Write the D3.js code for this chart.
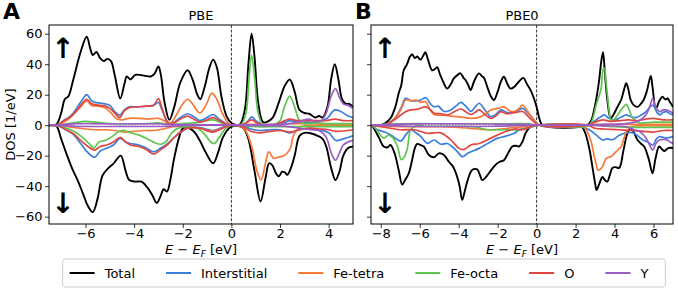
<!DOCTYPE html>
<html>
<head>
<meta charset="utf-8">
<script src="https://cdn.jsdelivr.net/npm/d3@7"></script>
<style>
  body { margin: 0; background: #fff; }
  svg { display: block; font-family: "DejaVu Sans", sans-serif; }
</style>
</head>
<body>
<div id="container"></div>
<script>
/* CONSTANTS AND GLOBALS */
const width = 678,
  height = 292,
  fontSize = 13,
  yTop = 25,
  yBottom = 224

/* DATA : [energy (eV), DOS (1/eV)] */
// panel A, PBE
const totalUpA = [[-7.5,0],[-7.2,0.5],[-7.0,8],[-6.85,17],[-6.7,19],[-6.5,30],[-6.2,48],[-5.95,58],[-5.8,50],[-5.7,46],[-5.55,48],[-5.4,44],[-5.25,42],[-5.1,43.5],[-4.95,42],[-4.8,33],[-4.57,17.5],[-4.4,27],[-4.3,32],[-4.15,30],[-3.95,33],[-3.6,32.5],[-3.3,32],[-3.15,34],[-3.0,38.5],[-2.9,33],[-2.75,15],[-2.55,3.5],[-2.35,12],[-2.1,28],[-1.8,36],[-1.6,30],[-1.4,20],[-1.28,17],[-1.1,25],[-0.9,38],[-0.75,43],[-0.6,38],[-0.4,18],[-0.2,6],[0,1.5],[0.15,0.3],[0.35,0.5],[0.55,10],[0.7,40],[0.83,60],[0.95,45],[1.1,15],[1.3,2],[1.5,2.5],[1.7,5],[1.95,15],[2.2,26],[2.4,30],[2.6,22],[2.8,10],[3.0,8],[3.2,7.5],[3.45,5],[3.6,6],[3.75,5],[3.95,12],[4.1,30],[4.25,40],[4.4,30],[4.55,17],[4.7,14],[4.85,14],[5.0,12]]
const totalDnA = [[-7.5,0],[-7.2,-0.5],[-7.0,-9],[-6.8,-18],[-6.56,-28],[-6.3,-37],[-6.1,-45],[-5.9,-53],[-5.7,-57],[-5.5,-48],[-5.3,-33],[-5.05,-28],[-4.84,-25],[-4.55,-20],[-4.35,-30],[-4.2,-36],[-3.95,-37],[-3.7,-37],[-3.45,-41],[-3.25,-46],[-3.07,-51],[-2.9,-46],[-2.79,-42],[-2.65,-43.5],[-2.5,-35],[-2.37,-23],[-2.15,-8],[-2.0,-2],[-1.8,-1.5],[-1.55,-4],[-1.3,-10],[-1.05,-18],[-0.75,-25],[-0.55,-18],[-0.35,-8],[-0.1,-2],[0,-1],[0.3,-0.5],[0.5,-2],[0.7,-9],[0.95,-30],[1.2,-50],[1.4,-35],[1.55,-25],[1.67,-26],[1.85,-32],[1.95,-33.5],[2.09,-30.5],[2.2,-31],[2.3,-32.5],[2.45,-28],[2.6,-20],[2.8,-7],[3.0,-5],[3.25,-5.3],[3.55,-7],[3.75,-9],[3.9,-14],[4.1,-28],[4.28,-36],[4.45,-30],[4.6,-20],[4.8,-15],[5.0,-14]]
const interUpA = [[-7.5,0],[-7.1,0.5],[-6.9,3],[-6.7,5],[-6.5,8],[-6.2,15],[-5.95,20],[-5.75,16],[-5.6,15],[-5.4,14.5],[-5.2,14],[-5.0,13],[-4.8,9],[-4.6,6.5],[-4.4,10],[-4.2,12],[-3.9,12],[-3.5,12.5],[-3.2,13],[-3.0,15],[-2.85,10],[-2.6,2],[-2.4,1.5],[-2.1,5],[-1.8,7.5],[-1.5,5],[-1.3,3],[-1.0,5],[-0.75,7],[-0.5,4],[-0.2,1],[0,0],[0.5,0.5],[0.7,3],[0.83,5.5],[1.0,3],[1.3,0.5],[1.8,0.5],[2.2,2],[2.4,3],[2.7,2],[3.1,2],[3.5,2],[3.9,4],[4.25,10],[4.5,9],[4.8,6],[5.0,5]]
const interDnA = [[-7.5,0],[-7.1,-0.5],[-6.8,-3],[-6.5,-6],[-6.2,-12],[-5.9,-18],[-5.62,-21],[-5.4,-17],[-5.12,-15],[-4.85,-13],[-4.57,-8.6],[-4.35,-11],[-4.16,-12],[-3.8,-13],[-3.5,-15],[-3.2,-17.5],[-2.9,-15],[-2.65,-12.5],[-2.35,-8],[-2.1,-5],[-1.8,-2],[-1.3,-1.5],[-0.75,-3.5],[-0.3,-1],[0,0],[0.5,-0.5],[0.8,-2.5],[1.2,-3.5],[1.6,-3],[2.0,-3],[2.4,-5],[2.8,-3],[3.2,-2],[3.6,-3],[4.0,-5],[4.3,-10],[4.6,-9],[5.0,-7]]
const tetraUpA = [[-7.5,0],[-7.1,0.5],[-6.9,2],[-6.7,4],[-6.5,7],[-6.2,12],[-5.95,16],[-5.75,13],[-5.5,12.5],[-5.2,11.5],[-4.95,8],[-4.7,4],[-4.5,3.5],[-4.2,4.5],[-3.8,4.5],[-3.4,4],[-3.0,4.5],[-2.7,2.5],[-2.5,1.5],[-2.25,7],[-2.0,14],[-1.8,17],[-1.6,14],[-1.3,8],[-1.05,13],[-0.8,21],[-0.6,17],[-0.35,7],[-0.1,1],[0,0],[0.5,0.5],[1.0,0.5],[2.0,0.5],[2.4,1],[3.0,1],[4.0,0.5],[5.0,0.5]]
const tetraDnA = [[-7.5,0],[-7,-0.5],[-6.5,-1.5],[-6,-2.5],[-5.6,-3],[-5.2,-3],[-4.8,-3.5],[-4.4,-4.5],[-4.0,-4],[-3.6,-3.5],[-3.2,-3.5],[-2.8,-2.5],[-2.4,-1],[-1.8,-1],[-1.3,-2],[-0.75,-4],[-0.4,-2],[0,0],[0.4,-1],[0.6,-4],[0.85,-15],[1.05,-30],[1.22,-36],[1.4,-25],[1.54,-17.5],[1.74,-21.8],[1.91,-21],[2.15,-20],[2.4,-16],[2.56,-6.5],[2.84,-1],[3.2,-0.5],[4.0,-0.5],[5.0,-0.5]]
const octaUpA = [[-7.5,0],[-7,0.3],[-6.5,1.5],[-6.0,2.5],[-5.6,2],[-5.0,1],[-4.5,0.5],[-3.5,1],[-3.0,1.5],[-2.5,0.5],[-2.0,1],[-1.5,1.5],[-0.75,3.5],[-0.4,1.5],[0,0],[0.4,0.5],[0.6,8],[0.72,30],[0.83,46],[0.95,32],[1.1,8],[1.3,0.5],[1.8,0.5],[2.0,3],[2.2,13],[2.4,19],[2.6,12],[2.8,3],[3.0,1],[3.5,1.5],[4.0,1],[4.5,1],[5.0,1]]
const octaDnA = [[-7.5,0],[-7.0,-1],[-6.6,-3],[-6.2,-7],[-5.85,-12],[-5.65,-15],[-5.45,-11],[-5.2,-10],[-4.95,-8],[-4.6,-4],[-4.4,-3.5],[-4.15,-5],[-3.8,-6.5],[-3.45,-9],[-3.15,-11.5],[-2.9,-12.5],[-2.7,-11],[-2.45,-5],[-2.2,-2],[-1.8,-1],[-1.4,-2],[-1.1,-6],[-0.85,-11],[-0.7,-12],[-0.5,-8],[-0.25,-2.5],[0,0],[0.5,-0.5],[1.0,-1],[2.0,-1],[3.0,-1],[4.0,-1],[5.0,-1]]
const oxyUpA = [[-7.5,0],[-7.1,0.5],[-6.9,3],[-6.7,4.5],[-6.5,7],[-6.2,13],[-5.95,17],[-5.75,14],[-5.6,13.5],[-5.4,13],[-5.2,12.5],[-5.0,11],[-4.8,8],[-4.6,5],[-4.4,9.5],[-4.2,11.5],[-3.9,12],[-3.5,12.5],[-3.2,13],[-3.0,17.5],[-2.85,11],[-2.6,1],[-2.4,1],[-2.1,4],[-1.8,6],[-1.5,3.5],[-1.3,2],[-1.0,3.5],[-0.75,5],[-0.5,3],[-0.2,0.5],[0,0],[0.5,0.5],[0.7,2.5],[0.85,3.5],[1.0,2],[1.3,0],[1.8,0.5],[2.2,3],[2.4,4],[2.7,3],[3.0,3],[3.5,3],[3.9,3],[4.25,4],[4.6,3],[5.0,3]]
const oxyDnA = [[-7.5,0],[-7.1,-0.5],[-6.8,-3],[-6.5,-5.5],[-6.2,-10],[-5.9,-14],[-5.62,-16.3],[-5.4,-14],[-5.12,-13],[-4.85,-11],[-4.57,-8],[-4.35,-11],[-4.16,-13],[-3.8,-14],[-3.5,-16],[-3.2,-19],[-2.9,-16],[-2.65,-13],[-2.35,-8],[-2.1,-4.5],[-1.8,-2],[-1.3,-2],[-0.75,-4.5],[-0.3,-1.5],[0,0],[0.5,-1],[0.8,-4],[1.2,-5],[1.6,-4],[2.0,-3.5],[2.4,-4.5],[2.8,-3],[3.2,-2],[3.6,-2.5],[4.0,-3],[4.3,-4],[5.0,-3]]
const yttUpA = [[-7.5,0],[-7,0.3],[-6.5,0.8],[-6,1],[-5,0.8],[-4,0.8],[-3,0.8],[-2.5,0.4],[-1,0.3],[0,0],[1,0.3],[2,0.5],[2.6,1.5],[3.0,3.5],[3.2,4],[3.45,2.5],[3.7,3],[3.9,8],[4.1,19],[4.28,24],[4.45,18],[4.6,14],[4.8,13],[5.0,11]]
const yttDnA = [[-7.5,0],[-7,-0.3],[-6,-0.8],[-4,-0.8],[-3,-0.8],[-2,-0.3],[0,0],[1,-0.3],[2,-0.5],[2.6,-1.5],[3.0,-2.5],[3.3,-3],[3.6,-3.5],[3.9,-8],[4.1,-18],[4.28,-23],[4.45,-18],[4.6,-13],[4.8,-11],[5.0,-10]]

// panel B, PBE0
const totalUpB = [[-8.5,0],[-8.0,0],[-7.8,1],[-7.5,4.5],[-7.25,12],[-7.08,21],[-6.95,26],[-6.82,36],[-6.65,40],[-6.5,45],[-6.39,46.5],[-6.25,44],[-6.13,45],[-5.96,43],[-5.8,46],[-5.71,47.8],[-5.55,42],[-5.36,36],[-5.2,37],[-5.1,38],[-4.95,33],[-4.76,27.5],[-4.59,24],[-4.4,27],[-4.25,30.7],[-4.05,33],[-3.91,34],[-3.75,31],[-3.65,29.6],[-3.5,26],[-3.39,23],[-3.2,29],[-2.96,34],[-2.8,32],[-2.7,31],[-2.53,25],[-2.35,19],[-2.19,16.5],[-2.0,22],[-1.85,28],[-1.68,31.8],[-1.5,27],[-1.34,24],[-1.16,25],[-0.95,28],[-0.68,31],[-0.5,27],[-0.31,23],[-0.15,18],[0,12],[0.15,4],[0.3,0],[2.6,0],[2.8,3],[2.95,10],[3.1,20],[3.21,29.6],[3.32,42],[3.41,47.8],[3.5,35],[3.63,16.5],[3.8,4.5],[3.95,7],[4.15,12],[4.35,17],[4.5,24],[4.6,27.5],[4.7,24],[4.83,16.5],[5.0,13],[5.18,12],[5.35,14],[5.49,16.5],[5.65,22],[5.86,32.3],[5.95,25],[6.12,11],[6.3,16],[6.46,18.7],[6.6,17],[6.72,17.5],[6.85,15],[7.0,12]]
const totalDnB = [[-8.5,0],[-8.36,-2],[-8.1,-8],[-7.85,-14],[-7.65,-14.5],[-7.5,-13],[-7.3,-18],[-7.08,-29.4],[-6.9,-39],[-6.75,-36],[-6.56,-31.5],[-6.39,-22.8],[-6.25,-15],[-6.13,-12.3],[-5.95,-13],[-5.79,-14],[-5.53,-19.5],[-5.27,-21],[-5.02,-18.5],[-4.76,-19.5],[-4.5,-24],[-4.3,-27],[-4.08,-33.8],[-3.95,-40],[-3.82,-49],[-3.7,-44],[-3.56,-37],[-3.31,-29.4],[-3.05,-29],[-2.9,-33],[-2.79,-36],[-2.6,-34],[-2.45,-31.5],[-2.11,-26],[-1.9,-24],[-1.68,-23],[-1.45,-18],[-1.25,-14],[-1.05,-13.5],[-0.9,-14],[-0.7,-10],[-0.57,-5.3],[-0.31,-1],[0,0],[2.18,0],[2.35,-1.5],[2.5,-5.3],[2.7,-15],[2.86,-27],[3.0,-38],[3.08,-42.5],[3.2,-39],[3.38,-34],[3.5,-36],[3.63,-37],[3.75,-33],[3.89,-28],[4.05,-27.5],[4.24,-28],[4.45,-17],[4.66,-5.3],[4.83,-2],[5.0,-5],[5.18,-9.7],[5.35,-12],[5.52,-14],[5.75,-22],[5.95,-31.5],[6.1,-22],[6.29,-14],[6.45,-16],[6.55,-17],[6.75,-15],[7.0,-15]]
const interUpB = [[-8.5,0],[-8.0,0],[-7.6,1.5],[-7.25,5],[-6.97,11],[-6.72,17.6],[-6.45,16],[-6.2,16],[-5.95,16.5],[-5.69,18],[-5.45,14],[-5.26,12],[-5.05,12.5],[-4.75,9],[-4.4,10],[-4.1,13],[-3.89,15],[-3.6,12],[-3.37,9],[-3.15,12],[-2.95,14.4],[-2.65,10],[-2.35,5.6],[-2.1,7],[-1.83,10],[-1.55,8.5],[-1.32,8],[-1.0,9.5],[-0.72,11],[-0.45,8],[-0.2,4.5],[0.14,0],[2.6,0],[2.85,1.5],[3.05,3.4],[3.3,5.5],[3.48,6.7],[3.7,4.5],[4.0,3.4],[4.3,5],[4.6,6.7],[4.85,5.5],[5.11,5],[5.35,6.5],[5.62,8.9],[5.96,13.2],[6.15,9],[6.31,6.7],[6.5,8.5],[6.65,8.9],[6.85,7.5],[7.0,6.7]]
const interDnB = [[-8.5,0],[-8.17,-3],[-7.8,-4.5],[-7.49,-6.4],[-7.2,-9],[-6.97,-10.4],[-6.7,-6],[-6.46,-3],[-6.2,-5],[-5.94,-7.5],[-5.6,-11.9],[-5.26,-9.7],[-4.92,-12.5],[-4.58,-12],[-4.35,-14],[-4.14,-16.3],[-3.8,-20.6],[-3.55,-18.5],[-3.37,-17.4],[-2.95,-15.2],[-2.65,-13],[-2.35,-10.8],[-2.0,-8.5],[-1.66,-7.5],[-1.15,-5.3],[-0.89,-3],[-0.5,-2],[-0.2,-1],[0.14,0],[2.2,-1],[2.7,-3],[3.05,-6.4],[3.39,-9.7],[3.6,-9],[3.91,-9.5],[4.2,-7],[4.51,-5.3],[4.94,-5],[5.2,-7],[5.45,-9.7],[5.7,-11],[5.96,-13],[6.15,-9],[6.31,-7.5],[6.65,-8.5],[7.0,-7.5]]
const tetraUpB = [[-8.5,0],[-8.0,0],[-7.6,1],[-7.25,5],[-6.97,10],[-6.72,16.5],[-6.45,16],[-6.2,16.5],[-5.95,15],[-5.69,15.4],[-5.5,11],[-5.26,7],[-4.75,6.5],[-4.4,6],[-4.06,5.6],[-3.7,5],[-3.37,4.5],[-3.0,5],[-2.7,6.7],[-2.35,10],[-2.0,11],[-1.66,12],[-1.4,9.5],[-1.15,8.9],[-0.9,11],[-0.72,13.2],[-0.45,9],[-0.2,4.5],[0.14,0],[2.6,0],[3.0,0.5],[4.0,0.5],[5.0,0.5],[7.0,0.5]]
const tetraDnB = [[-8.5,0],[-8.0,-0.5],[-7.0,-1],[-6.0,-1],[-5.0,-1],[-4.0,-1.5],[-3.0,-2.5],[-2.4,-3],[-1.8,-2.5],[-1.2,-1.5],[-0.6,-1],[0.14,0],[2.3,0],[2.54,-3],[2.8,-10.8],[2.95,-20],[3.05,-25],[3.14,-29.4],[3.25,-29],[3.39,-27],[3.57,-21.7],[3.82,-20.6],[4.08,-17.4],[4.34,-14],[4.5,-8],[4.6,-4.3],[4.85,-1],[5.2,-0.5],[7.0,-0.5]]
const octaUpB = [[-8.5,0],[-8,0.3],[-7,0.8],[-6,1],[-5,0.8],[-4,0.8],[-3,0.8],[-2,0.8],[-1,1],[-0.5,1],[0.14,0],[2.7,0],[2.9,5],[3.05,13],[3.2,19],[3.31,24],[3.42,37],[3.48,37.3],[3.55,30],[3.65,17.6],[3.75,7],[3.82,3.4],[4.0,4],[4.16,6.7],[4.4,11],[4.6,13.7],[4.75,10],[4.94,4.5],[5.28,1.5],[6.0,2],[7.0,2]]
const octaDnB = [[-8.5,0],[-8.3,-1.5],[-8.1,-5],[-7.83,-8.5],[-7.6,-6.5],[-7.4,-8],[-7.14,-14],[-6.95,-22.5],[-6.8,-21],[-6.63,-15],[-6.46,-3],[-6.12,0],[-5.5,-0.5],[-4.5,-0.5],[-3.5,-0.8],[-3.2,-1],[-2.5,-3],[-1.66,-3],[-0.89,-3],[-0.4,-1.5],[0.14,0],[3.0,0],[4.0,-1],[5.0,-1.5],[6.0,-1.5],[7.0,-1.5]]
const oxyUpB = [[-8.5,0],[-8.0,0],[-7.6,1],[-7.25,4],[-6.97,6.7],[-6.7,9],[-6.46,10],[-6.1,10.5],[-5.69,12],[-5.45,10],[-5.26,7.8],[-4.9,7.5],[-4.58,6.7],[-4.2,9],[-3.89,10.6],[-3.6,8.5],[-3.37,7],[-3.15,8.5],[-2.95,10],[-2.65,7],[-2.35,4.5],[-2.1,6],[-1.83,8.9],[-1.55,7.5],[-1.32,7.8],[-1.0,8.5],[-0.72,9],[-0.45,6],[-0.2,3],[0.14,0],[2.6,0],[3.0,2],[3.4,3.5],[3.8,2.5],[4.3,3],[4.7,3.5],[5.2,3],[5.6,4],[6.0,4.5],[6.5,3.5],[7.0,3.5]]
const oxyDnB = [[-8.5,0],[-8.0,-1],[-7.5,-2],[-6.97,-3],[-6.29,-3],[-5.6,-5.3],[-4.92,-5],[-4.4,-9.7],[-3.98,-15.2],[-3.75,-16],[-3.37,-13],[-2.95,-12],[-2.35,-8.5],[-1.66,-4.5],[-1.15,-2.5],[-0.72,-3],[-0.3,-1],[0.14,0],[2.6,0],[3.0,-2],[3.5,-2.5],[4.2,-3],[4.8,-3.5],[5.5,-4],[6.0,-4.5],[6.5,-3.5],[7.0,-3.5]]
const yttUpB = [[-8.5,0],[-8,0.2],[-7,0.7],[-6,0.9],[-4,0.8],[-2,0.6],[-0.5,0.5],[0.14,0],[2.6,0],[3.5,0.5],[4.6,1],[5.0,2],[5.28,3],[5.62,7],[5.8,12],[5.96,17.6],[6.1,12],[6.31,8.9],[6.5,10],[6.65,10],[6.85,9],[7.0,8]]
const yttDnB = [[-8.5,0],[-8,-0.2],[-6,-0.8],[-4,-0.8],[-2,-0.6],[0.14,0],[2.6,0],[3.5,-0.5],[4.6,-1],[5.0,-3],[5.28,-4],[5.62,-8.5],[5.8,-13],[5.96,-16.3],[6.12,-12],[6.31,-9.7],[6.65,-9.5],[6.85,-11],[7.0,-12]]

/* TICKS AND LABELS */
const yTicks = [-60, -40, -20, 0, 20, 40, 60]
const xTicksA = [-6, -4, -2, 0, 2, 4]
const xTicksB = [-8, -6, -4, -2, 0, 2, 4, 6]
const yDomain = [-64.8, 65.7]

/* LEGENDS */
const legendItems = [
  { key: 'total', color: '#000000', text: 'Total' },
  { key: 'inter', color: '#3a7fdc', text: 'Interstitial' },
  { key: 'tetra', color: '#f7793a', text: 'Fe-tetra' },
  { key: 'octa', color: '#5cc64f', text: 'Fe-octa' },
  { key: 'oxy', color: '#e2453f', text: 'O' },
  { key: 'ytt', color: '#9b5cc4', text: 'Y' }
]

const panels = [
  {
    letter: 'A', title: 'PBE', left: 49, right: 353, xDomain: [-7.5, 5], xTicks: xTicksA, yLabels: true,
    dots: [-6.4, -2.8],
    series: {
      total: [totalUpA, totalDnA], inter: [interUpA, interDnA], tetra: [tetraUpA, tetraDnA],
      octa: [octaUpA, octaDnA], oxy: [oxyUpA, oxyDnA], ytt: [yttUpA, yttDnA]
    }
  },
  {
    letter: 'B', title: 'PBE0', left: 371, right: 673, xDomain: [-8.5, 7], xTicks: xTicksB, yLabels: false,
    dots: [-5.8, -2.2],
    series: {
      total: [totalUpB, totalDnB], inter: [interUpB, interDnB], tetra: [tetraUpB, tetraDnB],
      octa: [octaUpB, octaDnB], oxy: [oxyUpB, oxyDnB], ytt: [yttUpB, yttDnB]
    }
  }
]

const svg = d3.select('#container')
  .append('svg')
  .attr('width', width)
  .attr('height', height)
  .style('font-size', fontSize + 'px')

const yScale = d3.scaleLinear().domain(yDomain).range([yBottom, yTop])

const fmt = d => d < 0 ? '\u2212' + Math.abs(d) : d

panels.forEach((p, i) => {
  const xScale = d3.scaleLinear().domain(p.xDomain).range([p.left, p.right])
  const g = svg.append('g')

  const clipId = 'clip' + p.letter
  svg.append('clipPath').attr('id', clipId)
    .append('rect')
    .attr('x', p.left).attr('y', yTop)
    .attr('width', p.right - p.left).attr('height', yBottom - yTop)

  const line = d3.line()
    .x(d => xScale(d[0]))
    .y(d => yScale(d[1]))
    .curve(d3.curveCatmullRom.alpha(0.5))

  const plot = g.append('g').attr('clip-path', `url(#${clipId})`)

  // fermi level
  plot.append('line')
    .attr('x1', xScale(0)).attr('x2', xScale(0))
    .attr('y1', yTop).attr('y2', yBottom)
    .attr('stroke', '#000')
    .attr('stroke-width', 0.8)
    .attr('stroke-dasharray', '3,1.6')

  legendItems.forEach(item => {
    p.series[item.key].forEach(s => {
      plot.append('path')
        .datum(s)
        .attr('d', line)
        .attr('fill', 'none')
        .attr('stroke', item.color)
        .attr('stroke-width', item.key === 'total' ? 1.9 : 1.7)
        .attr('stroke-linejoin', 'round')
    })
  })

  // dotted zero segment
  plot.append('line')
    .attr('x1', xScale(p.dots[0])).attr('x2', xScale(p.dots[1]))
    .attr('y1', yScale(0)).attr('y2', yScale(0))
    .attr('stroke', '#ffffff')
    .attr('stroke-width', 0.9)
    .attr('stroke-dasharray', '1.5,1.5')

  // axes
  const xAxis = d3.axisBottom(xScale)
    .tickValues(p.xTicks)
    .tickSize(4)
    .tickPadding(1)
    .tickFormat(fmt)
  const yAxis = d3.axisLeft(yScale)
    .tickValues(yTicks)
    .tickSize(4)
    .tickPadding(2.5)
    .tickFormat(d => p.yLabels ? fmt(d) : '')

  const gx = g.append('g')
    .attr('transform', `translate(0, ${yBottom})`)
    .call(xAxis)
  const gy = g.append('g')
    .attr('transform', `translate(${p.left}, 0)`)
    .call(yAxis)
  ;[gx, gy].forEach(a => {
    a.attr('font-size', null).attr('font-family', null)
    a.select('.domain').remove()
    a.selectAll('text').style('font-size', fontSize + 'px').attr('fill', '#000')
    a.selectAll('line').attr('stroke', '#000').attr('stroke-width', 0.8)
  })

  // frame
  g.append('rect')
    .attr('x', p.left).attr('y', yTop)
    .attr('width', p.right - p.left).attr('height', yBottom - yTop)
    .attr('fill', 'none')
    .attr('stroke', '#000')
    .attr('stroke-width', 1)

  // title and panel letter
  g.append('text')
    .attr('x', (p.left + p.right) / 2).attr('y', 20)
    .attr('text-anchor', 'middle')
    .text(p.title)

  g.append('text')
    .attr('x', p.left - (i === 0 ? 46 : 16)).attr('y', 19)
    .style('font-size', '22px')
    .style('font-weight', 'bold')
    .text(p.letter)

  // spin arrows
  g.append('text')
    .attr('x', p.left + 14).attr('y', 58)
    .attr('text-anchor', 'middle')
    .style('font-size', '28px')
    .style('font-weight', 'bold')
    .text('\u2191')
  g.append('text')
    .attr('x', p.left + 14).attr('y', 213)
    .attr('text-anchor', 'middle')
    .style('font-size', '28px')
    .style('font-weight', 'bold')
    .text('\u2193')

  // x label
  const xl = g.append('text')
    .attr('x', (p.left + p.right) / 2).attr('y', 254)
    .attr('text-anchor', 'middle')
  xl.append('tspan').style('font-style', 'italic').text('E')
  xl.append('tspan').text(' \u2212 ')
  xl.append('tspan').style('font-style', 'italic').text('E')
  xl.append('tspan').style('font-style', 'italic').style('font-size', '9px').attr('dy', 3).text('F')
  xl.append('tspan').attr('dy', -3).text(' [eV]')
})

// y label
svg.append('text')
  .attr('transform', `translate(15, ${(yTop + yBottom) / 2}) rotate(-90)`)
  .attr('text-anchor', 'middle')
  .text('DOS [1/eV]')

/* LEGEND */
const handleLen = 25,
  textPad = 10,
  colSpace = 31,
  borderPad = 7

const legend = svg.append('g')
const legendFrame = legend.append('rect')
const entries = legend.selectAll('g.entry')
  .data(legendItems)
  .join('g')
  .attr('class', 'entry')

entries.append('line')
  .attr('x1', 0).attr('x2', handleLen)
  .attr('stroke', d => d.color)
  .attr('stroke-width', 2)
entries.append('text')
  .attr('x', handleLen + textPad)
  .attr('dy', '0.35em')
  .text(d => d.text)

let cursor = borderPad
entries.each(function () {
  const w = d3.select(this).select('text').node().getComputedTextLength()
  d3.select(this).attr('transform', `translate(${cursor}, 0)`)
  cursor += handleLen + textPad + w + colSpace
})
const legendW = cursor - colSpace + borderPad + 10
const legendX = 364 - legendW / 2
legend.attr('transform', `translate(${legendX}, 273)`)
legendFrame
  .attr('x', 0).attr('y', -14)
  .attr('width', legendW).attr('height', 28)
  .attr('rx', 2.5)
  .attr('fill', '#fff')
  .attr('stroke', '#cccccc')
  .attr('stroke-width', 1)
</script>
</body>
</html>
